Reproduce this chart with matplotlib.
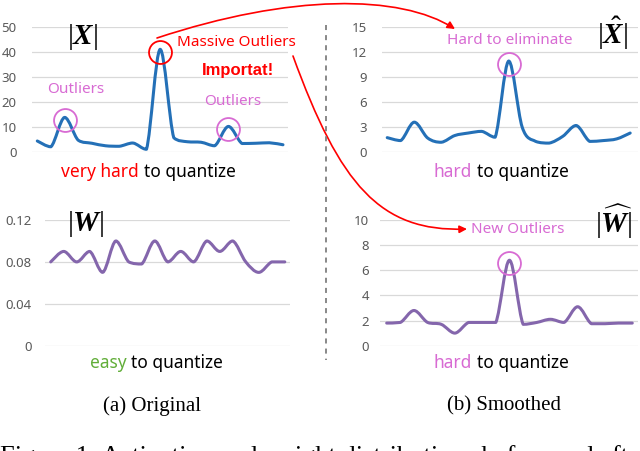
import numpy as np
import matplotlib
matplotlib.use("Agg")
import matplotlib.pyplot as plt
from matplotlib.path import Path
from matplotlib.patches import PathPatch, FancyArrowPatch
from matplotlib.lines import Line2D
from matplotlib.transforms import Affine2D, offset_copy

plt.rcParams['font.family'] = ['Noto Sans', 'DejaVu Sans']
plt.rcParams['mathtext.fontset'] = 'custom'
plt.rcParams['mathtext.rm'] = 'Liberation Serif'
plt.rcParams['mathtext.it'] = 'Liberation Serif:italic'
plt.rcParams['mathtext.bf'] = 'Liberation Serif:italic:bold'

# Values
x_orig = [4.5, 2.2, 13.9, 4.8, 3.6, 2.6, 2.4, 3.7, 1.2, 41.0,
          5.8, 4.2, 4.0, 2.6, 10.3, 3.5, 3.6, 3.8, 3.0]
x_smooth = [1.75, 1.4, 3.6, 1.7, 1.2, 2.0, 2.3, 2.5, 1.8, 10.9,
            3.0, 1.3, 1.1, 1.9, 3.2, 1.3, 1.4, 1.6, 2.3]
w_orig = [0.08, 0.09, 0.08, 0.09, 0.07, 0.10, 0.08, 0.078, 0.10, 0.08,
          0.09, 0.08, 0.10, 0.09, 0.10, 0.08, 0.07, 0.08, 0.08]
w_smooth = [1.8, 1.85, 2.8, 1.85, 1.7, 1.0, 1.85, 1.85, 1.85, 6.8,
            1.7, 1.85, 2.1, 1.85, 3.1, 1.75, 1.75, 1.8, 1.8]

x_orig_ticks = [0, 10, 20, 30, 40, 50]
x_smooth_ticks = [0, 3, 6, 9, 12, 15]
w_orig_ticks = [0, 0.04, 0.08, 0.12]
w_orig_labels = ["0", "0.04", "0.08", "0.12"]
w_smooth_ticks = [0, 2, 4, 6, 8, 10]

BLUE = "#2470B7"
PURPLE = "#8466AC"
PINK = "#D86BD3"
RED = "#FF0000"
GREEN = "#62AE3A"
GREY = "#595959"

W, H = 640, 451
fig = plt.figure(figsize=(6.4, 4.51), dpi=100)
pix = Affine2D().scale(1 / W, -1 / H).translate(0, 1) + fig.transFigure


def rect(left, right, top, bottom):
    return [left / W, 1 - bottom / H, (right - left) / W, (bottom - top) / H]


def smooth_path(xs, ys):
    # excel-like smoothed line through the points, no overshoot
    pts = np.column_stack([xs, ys]).astype(float)
    p = np.vstack([pts[0], pts, pts[-1]])
    verts = [pts[0]]
    codes = [Path.MOVETO]
    for i in range(len(pts) - 1):
        p0, p1, p2, p3 = p[i], p[i + 1], p[i + 2], p[i + 3]
        c1 = p1 + (p2 - p0) / 6
        c2 = p2 - (p3 - p1) / 6
        lo, hi = min(p1[1], p2[1]), max(p1[1], p2[1])
        c1[1] = np.clip(c1[1], lo, hi)
        c2[1] = np.clip(c2[1], lo, hi)
        verts += [c1, c2, p2]
        codes += [Path.CURVE4] * 3
    return Path(verts, codes)


def panel(r, values, color, ticks, labels, xlim, pad):
    ax = fig.add_axes(r)
    idx = np.arange(len(values))
    ax.add_patch(PathPatch(smooth_path(idx, values), fill=False,
                           edgecolor=color, lw=2.2, capstyle='round',
                           joinstyle='round', zorder=3))
    ax.set_xlim(*xlim)
    ax.set_ylim(ticks[0], ticks[-1])
    ax.set_yticks(ticks, labels)
    ax.set_xticks([])
    ax.grid(axis='y', color='#D9D9D9', lw=0.9)
    ax.tick_params(axis='y', length=0, pad=pad, labelsize=9.5,
                   labelcolor=GREY)
    for s in ax.spines.values():
        s.set_visible(False)
    ax.patch.set_alpha(0)
    return ax


def ring(ax, i, values, color):
    tr = offset_copy(ax.transData, fig, y=-3, units='dots')
    ax.plot(i, values[i], marker='o', ms=16.5, mfc='none', mec=color,
            mew=1.3, transform=tr, clip_on=False, zorder=4)


def ftext(x, y, s, **kw):
    fig.text(x / W, 1 - y / H, s, **kw)


ax1 = panel(rect(31.7, 288.3, 26.7, 152.3), x_orig, BLUE, x_orig_ticks,
            [str(t) for t in x_orig_ticks], (-0.41, 18.39), 11)
ax2 = panel(rect(381.7, 638, 26.7, 152.3), x_smooth, BLUE, x_smooth_ticks,
            [str(t) for t in x_smooth_ticks], (-0.41, 18.58), 10.5)
ax3 = panel(rect(45, 290, 220, 345.7), w_orig, PURPLE, w_orig_ticks,
            w_orig_labels, (-0.44, 18.4), 9.5)
ax4 = panel(rect(380, 638, 220, 345.7), w_smooth, PURPLE, w_smooth_ticks,
            [str(t) for t in w_smooth_ticks], (-0.49, 18.42), 8)

# highlight rings
ring(ax1, 2, x_orig, PINK)
ring(ax1, 9, x_orig, RED)
ring(ax1, 14, x_orig, PINK)
ring(ax2, 9, x_smooth, PINK)
ring(ax4, 9, w_smooth, PINK)

# panel titles
ftext(83, 37, r'$|\mathbf{X}|$', fontsize=21, ha='center', va='center')
ftext(613, 33, r'$|\hat{\mathbf{X}}|$', fontsize=21, ha='center', va='center')
ftext(86, 224, r'$|\mathbf{W}|$', fontsize=21, ha='center', va='center')
ftext(614, 222, r'$|\widehat{\mathbf{W}}|$', fontsize=21, ha='center',
      va='center')

# annotations
ftext(236, 43, "Massive Outliers", color=RED, fontsize=11, ha='center',
      va='center')
ftext(238, 70, "Importat!", color=RED, fontsize=12,
      fontfamily='Liberation Sans', fontweight='bold', ha='center',
      va='center')
ftext(75.5, 89.5, "Outliers", color=PINK, fontsize=11, ha='center',
      va='center')
ftext(232.5, 101.5, "Outliers", color=PINK, fontsize=11, ha='center',
      va='center')
ftext(510, 40, "Hard to eliminate", color=PINK, fontsize=11, ha='center',
      va='center')
ftext(518, 229, "New Outliers", color=PINK, fontsize=11, ha='center',
      va='center')

# quantize notes
for xl, xr, y, word, col in [(138.5, 144, 171.7, "very hard", RED),
                             (471.7, 476.7, 171.7, "hard", PINK),
                             (126.7, 130.7, 363.3, "easy", GREEN),
                             (471.7, 476.7, 363.3, "hard", PINK)]:
    ftext(xl, y, word, color=col, fontsize=12.5, ha='right', va='center')
    ftext(xr, y, "to quantize", color='black', fontsize=12.5, ha='left',
          va='center')

# captions
ftext(151.7, 406, "(a) Original", fontfamily='Liberation Serif', fontsize=15,
      ha='center', va='center')
ftext(504, 406, "(b) Smoothed", fontfamily='Liberation Serif', fontsize=15,
      ha='center', va='center')
ftext(0, 445.5, "Figure 1: Activation and weight distributions before and "
      "after", fontfamily='Liberation Serif', fontsize=19, ha='left',
      va='top')

# divider
fig.add_artist(Line2D([325.7, 325.7], [25, 360], transform=pix,
                      color='#7F7F7F', lw=1.3, ls=(0, (2.8, 2.8))))

# red arrows
arrow_top = Path([(157, 38), (290, -6), (400, -6), (455, 29)],
                 [Path.MOVETO, Path.CURVE4, Path.CURVE4, Path.CURVE4])
arrow_low = Path([(293, 56), (340, 185), (380, 232), (467, 229)],
                 [Path.MOVETO, Path.CURVE4, Path.CURVE4, Path.CURVE4])
for pth in (arrow_top, arrow_low):
    fig.add_artist(FancyArrowPatch(path=pth, transform=pix,
                                   arrowstyle='-|>', mutation_scale=11,
                                   color=RED, lw=1.2))

fig.savefig("out.png", dpi=100)
